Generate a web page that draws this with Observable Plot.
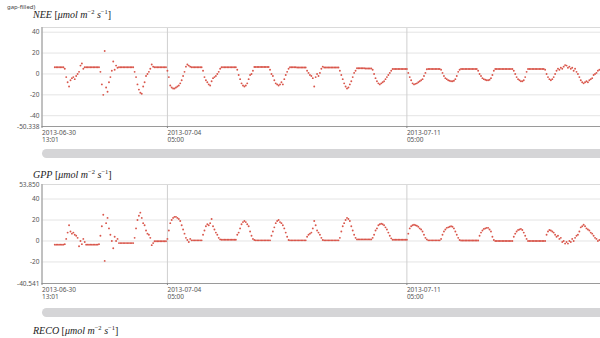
<!DOCTYPE html>
<html><head><meta charset="utf-8">
<script src="https://cdn.jsdelivr.net/npm/d3@7"></script>
<script src="https://cdn.jsdelivr.net/npm/@observablehq/plot@0.6"></script>
<style>
html,body{margin:0;padding:0;background:#fff;}
#wrap{position:relative;width:600px;height:338px;overflow:hidden;font-family:"Noto Sans",sans-serif;}
.t{position:absolute;left:33px;font-family:"Liberation Serif",serif;font-size:10px;line-height:10px;color:#222;white-space:nowrap;}
.t i{font-style:italic;}
.t sup{font-size:6.5px;vertical-align:4px;line-height:0;}
.sb{position:absolute;left:42px;width:570px;border-radius:5px;background:#d5d5d7;}
.p{position:absolute;left:0;}
#gf{position:absolute;left:7px;top:4px;font-size:6px;line-height:6px;color:#444;}
</style></head><body><div id="wrap">
<div id="gf">gap-filled)</div>
<div class="t" style="top:10px"><i>NEE</i> [<i>μmol m</i><sup>−2</sup> <i>s</i><sup>−1</sup>]</div>
<div class="p" id="p1" style="top:20px"></div>
<div class="sb" style="top:149px;height:9px"></div>
<div class="t" style="top:170px"><i>GPP</i> [<i>μmol m</i><sup>−2</sup> <i>s</i><sup>−1</sup>]</div>
<div class="p" id="p2" style="top:178px"></div>
<div class="sb" style="top:308px;height:9px"></div>
<div class="t" style="top:326px"><i>RECO</i> [<i>μmol m</i><sup>−2</sup> <i>s</i><sup>−1</sup>]</div>
</div>
<script>
// hourly series, first value at 2013-06-30 22:00
const seriesStart = "2013-06-30T22:00:00Z";
const xStart = "2013-06-30T13:01:00Z";
const xEnd = "2013-07-16T20:50:00Z";
const xTicks = ["2013-06-30T13:01:00Z", "2013-07-04T05:00:00Z", "2013-07-11T05:00:00Z"];
const neeDomain = [-50.338, 44.5];
const neeTicks = [-50.338, -40, -20, 0, 20, 40];
const gppDomain = [-40.541, 53.850];
const gppTicks = [-40.541, -20, 0, 20, 40, 53.850];

const neeJun30 = [6.4,6.4];
const neeJul01 = [6.4,6.4,6.4,6.4,6.4,5,-3,-8,-12,-6,-4,-3,-5,-2,0,2,8,10,5,6.4,6.4,6.4,6.4,6.4];
const neeJul02 = [6.4,6.4,6.4,6.4,6.4,6.4,2,-10,-20,22,-13,-17,-8,-3,3,12,4,8,6,6.4,6.4,6.4,6.4,6.4];
const neeJul03 = [6.4,6.4,6.4,6.4,6.4,6.4,2,-3,-10,-15,-18,-19,-12,-8,-2,0,2,5,9,7,6.4,6.4,6.4,6.4];
const neeJul04 = [6.4,6.4,6.4,6.4,6.4,3,-3,-11,-13,-14,-14,-13,-12,-11,-9,-6,-2,2,7,9,8,7,6.4,6.4];
const neeJul05 = [6.4,6.4,6.4,6.4,6.4,6.4,3,-3,-6,-8,-10,-11,-7,-4,-3,-2,0,2,5,6.4,6.4,6.4,6.4,6.4];
const neeJul06 = [6.4,6.4,6.4,6.4,6.4,6.4,4,-1,-5,-9,-11,-12,-11,-9,-5,-1,0,3,6.6,6.6,6.6,6.6,6.6,6.6];
const neeJul07 = [6.6,6.6,6.6,6.6,6.6,4,0,-2,-6,-9,-10,-11,-10,-8,-10,-5,-1,2,5,6.4,6.4,6.4,6.4,6.4];
const neeJul08 = [6.2,6.2,6.2,6.2,6.2,6.2,6.2,3,1,-1,-2,-4,-12,-3,0,-2,1,5,7,6.2,6.2,6.2,6.2,6.2];
const neeJul09 = [6.2,6.2,6.2,6.2,6.2,6.2,3,-1,-5,-9,-12,-14,-13,-10,-7,-3,1,3,5.5,5.5,5.5,5.5,5.5,5.5];
const neeJul10 = [5.2,5.2,5.2,5.2,5.2,4,0,-4,-7,-9,-10,-9,-8,-7,-5,-3,-1,1,3,4.8,4.8,4.8,4.8,4.8];
const neeJul11 = [4.8,4.8,4.8,4.8,4.8,4.8,1,-3,-6,-9,-10,-9.5,-9,-8,-7,-6,-5,-2,1,4.5,4.8,4.8,4.8,4.8];
const neeJul12 = [4.8,4.8,4.8,4.8,4.8,4,1,-2,-4,-5,-6,-6.5,-7,-7,-6.5,-5,-2,2,4,4.8,4.8,4.8,4.8,4.8];
const neeJul13 = [4.8,4.8,4.8,4.8,4.8,4.8,4.8,3,0,-2,-4,-5,-5.5,-6,-6,-5.5,-4,-1,3,4.8,4.8,4.8,4.8,4.8];
const neeJul14 = [4.8,4.8,4.8,4.8,4.8,4.8,4.8,4.8,3,0,-3,-5,-6,-7,-7,-6,-3,2,4.8,4.8,4.8,4.8,4.8,4.8];
const neeJul15 = [4.8,4.8,4.8,4.8,4.8,4.8,4,0,-3,-5,-6,-5,-3,0,3,5,4,6,5,7,8.5,8,6,7];
const neeJul16 = [5,6,3,5,2,0,-3,-6,-8,-9,-8,-7,-8,-6,-5,-4,-1,0,1,3,4];

const gppJun30 = [-3.5,-3.5];
const gppJul01 = [-3.5,-3.5,-3.5,-3.5,-3.5,-3,2,8,15,9,7,8,6,5,3,-5,0,-3,2,-1,-3.5,-3.5,-3.5,-3.5];
const gppJul02 = [-3.5,-3.5,-3.5,-3.5,-3.5,-3,5,14,25,-19,17,22,12,6,0,-7,4,0,2,-2,-2,-2,-2,-2];
const gppJul03 = [-2,-2,-2,-2,-2,-2,3,12,20,24,27,22,17,15,10,7,6,3,-4,-2,-0.3,-0.3,-0.3,-0.3];
const gppJul04 = [-0.3,-0.3,-0.3,-0.3,-0.3,2,10,17,20,22,23,23,22,21,19,15,11,7,3,1,-1,2,0.6,0.6];
const gppJul05 = [0.6,0.6,0.6,0.6,0.6,0.6,6,10,14,16,15,17,21,14,11,8,6,3,1.5,1.2,1.2,1.2,1.2,1.2];
const gppJul06 = [1.2,1.2,1.2,1.2,1.2,1.2,6,8,12,16,18,19,18,16,14,9,5,2,1,0.6,0.6,0.6,0.6,0.6];
const gppJul07 = [0.6,0.6,0.6,0.6,0.6,0.6,5,9,13,17,19,20,18,17,15,12,8,4,1,0.6,0.6,0.6,0.6,0.6];
const gppJul08 = [0.6,0.6,0.6,0.6,0.6,0.6,0.6,4,6,7,8,12,19,15,10,8,6,3,1,0.6,0.6,0.6,0.6,0.6];
const gppJul09 = [0.6,0.6,0.6,0.6,0.6,0.6,3,9,14,17,20,22,21,19,14,10,6,3,1.5,1.5,1.5,1.5,1.5,1.5];
const gppJul10 = [1.5,1.5,1.5,1.5,1.5,3,6,10,12,15,16,16.5,16,15,13,11,8,5,2.5,1.2,1.2,1.2,1.2,1.2];
const gppJul11 = [1.2,1.2,1.2,1.2,1.2,1.2,7,12,14,15,15.5,15,14.5,13.5,12,11,9,6,3,1.5,0.6,0.6,0.6,0.6];
const gppJul12 = [0.6,0.6,0.6,0.6,0.6,2,6,9,11,12.5,13,13.5,14,13.5,12,9,6,3,1,0.5,0.5,0.5,0.5,0.5];
const gppJul13 = [0.5,0.5,0.5,0.5,0.5,0.5,0.5,0.5,5,8,10,11.5,12,12.5,12.5,11,9,4,1,0,0,0,0,0];
const gppJul14 = [0,0,0,0,0,0,0,0,4,7,9,10.5,11,11.5,10.5,8,5,2,0,0,0,0,0,0];
const gppJul15 = [0,0,0,0,0,0,0,6,9,10.5,10,9,8,6,4,5,2,3,-1,0,-2.5,-1,-2.5,0];
const gppJul16 = [-1,2,0,3,5,6,9,13,14,15.5,14,12,11,10,8,7,5,3,2,0,1];

const nee = [].concat(neeJun30,neeJul01,neeJul02,neeJul03,neeJul04,neeJul05,neeJul06,neeJul07,neeJul08,neeJul09,neeJul10,neeJul11,neeJul12,neeJul13,neeJul14,neeJul15,neeJul16);
const gpp = [].concat(gppJun30,gppJul01,gppJul02,gppJul03,gppJul04,gppJul05,gppJul06,gppJul07,gppJul08,gppJul09,gppJul10,gppJul11,gppJul12,gppJul13,gppJul14,gppJul15,gppJul16);

const t0 = new Date(seriesStart);
const toRows = vals => vals.map((v, i) => ({t: d3.utcHour.offset(t0, i), v}));
const fmtX = d3.utcFormat("%Y-%m-%d\n%H:%M");
const fmtY = v => Number.isInteger(v) ? String(v) : v.toFixed(3);
const dotColor = "#d9574c";

function panel(rows, domain, ticks, height, marginTop) {
  const xt = xTicks.map(s => new Date(s));
  return Plot.plot({
    width: 600, height,
    marginLeft: 41.5, marginRight: 0, marginTop, marginBottom: 18,
    style: {fontSize: "6.5px", fontFamily: "'Noto Sans', sans-serif", color: "#555", background: "transparent", overflow: "visible"},
    x: {type: "utc", domain: [new Date(xStart), new Date(xEnd)], label: null},
    y: {domain, label: null},
    marks: [
      Plot.gridY(ticks, {stroke: "#e4e4e4", strokeOpacity: 1}),
      Plot.gridX(xt, {stroke: "#cfcfcf", strokeOpacity: 1}),
      Plot.ruleY([domain[1]], {stroke: "#dadada"}),
      Plot.dot(rows, {x: "t", y: "v", r: 0.95, fill: dotColor, stroke: null}),
      Plot.ruleX([new Date(xStart)], {stroke: "#9a9a9a"}),
      Plot.ruleY([domain[0]], {stroke: "#9a9a9a"}),
      Plot.axisY({ticks, tickFormat: fmtY, tickSize: 0, tickPadding: 2.5, fill: "#555", label: null}),
      Plot.axisX({ticks: xt, tickFormat: fmtX, textAnchor: "start", tickSize: 2, tickPadding: 1, lineHeight: 1.15, fill: "#555", stroke: "#888", label: null})
    ]
  });
}

document.getElementById("p1").append(panel(toRows(nee), neeDomain, neeTicks, 124, 7));
document.getElementById("p2").append(panel(toRows(gpp), gppDomain, gppTicks, 123, 6));
</script>
</body></html>
